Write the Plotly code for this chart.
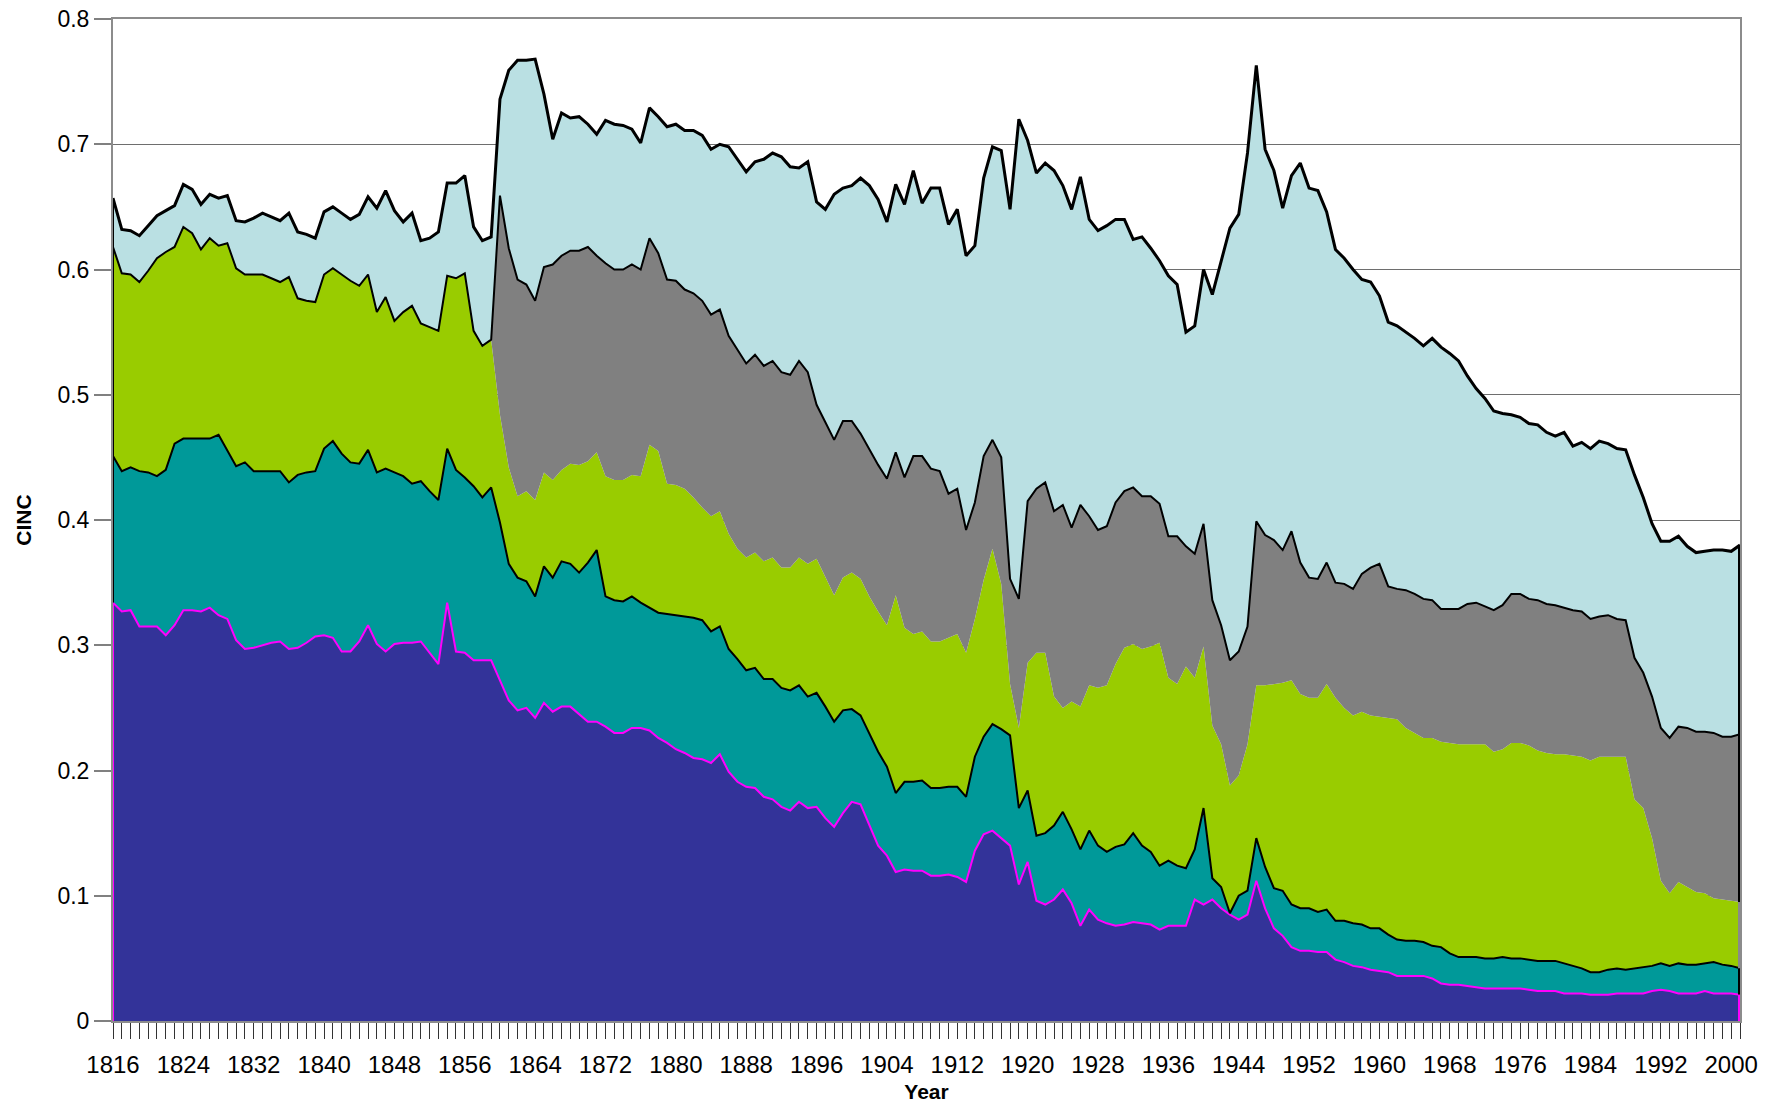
import plotly.graph_objects as go

years = list(range(1816, 2002))

# Stacked (cumulative) CINC boundaries, bottom to top
uk_top = [
    0.334, 0.327, 0.328, 0.315, 0.315, 0.315, 0.308, 0.316, 0.328, 0.328,
    0.327, 0.330, 0.324, 0.321, 0.304, 0.297, 0.298, 0.300, 0.302, 0.303,
    0.297, 0.298, 0.302, 0.307, 0.308, 0.306, 0.295, 0.295, 0.303, 0.316,
    0.301, 0.295, 0.301, 0.302, 0.302, 0.303, 0.294, 0.285, 0.334, 0.295,
    0.294, 0.288, 0.288, 0.288, 0.272, 0.256, 0.248, 0.250, 0.242, 0.254,
    0.247, 0.251, 0.251, 0.245, 0.239, 0.239, 0.235, 0.230, 0.230, 0.234,
    0.234, 0.232, 0.226, 0.222, 0.217, 0.214, 0.210, 0.209, 0.206, 0.213,
    0.199, 0.191, 0.187, 0.186, 0.179, 0.177, 0.171, 0.168, 0.175, 0.170,
    0.171, 0.162, 0.155, 0.166, 0.175, 0.173, 0.157, 0.140, 0.132, 0.119,
    0.121, 0.120, 0.120, 0.116, 0.116, 0.117, 0.115, 0.111, 0.136, 0.149,
    0.152, 0.146, 0.140, 0.109, 0.127, 0.096, 0.093, 0.097, 0.105, 0.094,
    0.076, 0.089, 0.081, 0.078, 0.076, 0.077, 0.079, 0.078, 0.077, 0.073,
    0.076, 0.076, 0.076, 0.097, 0.093, 0.097, 0.090, 0.085, 0.081, 0.085,
    0.112, 0.090, 0.074, 0.068, 0.059, 0.056, 0.056, 0.055, 0.055, 0.049,
    0.047, 0.044, 0.043, 0.041, 0.040, 0.039, 0.036, 0.036, 0.036, 0.036,
    0.034, 0.030, 0.029, 0.029, 0.028, 0.027, 0.026, 0.026, 0.026, 0.026,
    0.026, 0.025, 0.024, 0.024, 0.024, 0.022, 0.022, 0.022, 0.021, 0.021,
    0.021, 0.022, 0.022, 0.022, 0.022, 0.024, 0.025, 0.024, 0.022, 0.022,
    0.022, 0.024, 0.022, 0.022, 0.022, 0.021,
]

france_top = [
    0.451, 0.439, 0.442, 0.439, 0.438, 0.435, 0.440, 0.461, 0.465, 0.465,
    0.465, 0.465, 0.468, 0.456, 0.443, 0.446, 0.439, 0.439, 0.439, 0.439,
    0.430, 0.436, 0.438, 0.439, 0.457, 0.463, 0.453, 0.446, 0.445, 0.456,
    0.438, 0.441, 0.438, 0.435, 0.429, 0.431, 0.423, 0.416, 0.457, 0.440,
    0.434, 0.427, 0.418, 0.426, 0.398, 0.365, 0.354, 0.351, 0.339, 0.363,
    0.354, 0.367, 0.365, 0.358, 0.366, 0.376, 0.339, 0.336, 0.335, 0.339,
    0.334, 0.330, 0.326, 0.325, 0.324, 0.323, 0.322, 0.320, 0.311, 0.315,
    0.297, 0.289, 0.280, 0.282, 0.273, 0.273, 0.266, 0.264, 0.268, 0.259,
    0.262, 0.251, 0.239, 0.248, 0.249, 0.244, 0.229, 0.215, 0.203, 0.182,
    0.191, 0.191, 0.192, 0.186, 0.186, 0.187, 0.187, 0.179, 0.211, 0.227,
    0.237, 0.233, 0.228, 0.170, 0.184, 0.148, 0.150, 0.156, 0.167, 0.153,
    0.137, 0.152, 0.140, 0.135, 0.139, 0.141, 0.150, 0.140, 0.135, 0.124,
    0.128, 0.124, 0.122, 0.137, 0.170, 0.114, 0.107, 0.086, 0.100, 0.104,
    0.146, 0.123, 0.106, 0.104, 0.093, 0.090, 0.090, 0.087, 0.089, 0.080,
    0.080, 0.078, 0.077, 0.074, 0.074, 0.069, 0.065, 0.064, 0.064, 0.063,
    0.060, 0.059, 0.054, 0.051, 0.051, 0.051, 0.050, 0.050, 0.051, 0.050,
    0.050, 0.049, 0.048, 0.048, 0.048, 0.046, 0.044, 0.042, 0.039, 0.039,
    0.041, 0.042, 0.041, 0.042, 0.043, 0.044, 0.046, 0.044, 0.046, 0.045,
    0.045, 0.046, 0.047, 0.045, 0.044, 0.042,
]

russia_top = [
    0.618, 0.597, 0.596, 0.590, 0.599, 0.609, 0.614, 0.618, 0.634, 0.629,
    0.616, 0.625, 0.619, 0.621, 0.601, 0.596, 0.596, 0.596, 0.593, 0.590,
    0.594, 0.577, 0.575, 0.574, 0.596, 0.601, 0.596, 0.591, 0.587, 0.596,
    0.566, 0.578, 0.559, 0.566, 0.571, 0.557, 0.554, 0.551, 0.595, 0.593,
    0.597, 0.551, 0.539, 0.544, 0.484, 0.442, 0.419, 0.423, 0.416, 0.438,
    0.432, 0.440, 0.445, 0.444, 0.447, 0.454, 0.435, 0.432, 0.432, 0.436,
    0.435, 0.460, 0.455, 0.429, 0.428, 0.425, 0.418, 0.410, 0.403, 0.407,
    0.389, 0.377, 0.370, 0.374, 0.367, 0.370, 0.362, 0.362, 0.370, 0.365,
    0.369, 0.354, 0.340, 0.354, 0.358, 0.353, 0.339, 0.327, 0.316, 0.340,
    0.314, 0.309, 0.311, 0.303, 0.303, 0.306, 0.309, 0.294, 0.321, 0.352,
    0.377, 0.349, 0.269, 0.234, 0.286, 0.294, 0.294, 0.259, 0.250, 0.255,
    0.251, 0.268, 0.266, 0.268, 0.285, 0.298, 0.301, 0.297, 0.299, 0.302,
    0.274, 0.269, 0.283, 0.274, 0.299, 0.236, 0.221, 0.188, 0.196, 0.221,
    0.268, 0.268, 0.269, 0.270, 0.272, 0.261, 0.258, 0.258, 0.269, 0.258,
    0.250, 0.244, 0.247, 0.244, 0.243, 0.242, 0.241, 0.234, 0.230, 0.226,
    0.226, 0.223, 0.222, 0.221, 0.221, 0.221, 0.221, 0.215, 0.217, 0.222,
    0.222, 0.220, 0.216, 0.214, 0.213, 0.213, 0.212, 0.211, 0.208, 0.211,
    0.211, 0.211, 0.211, 0.177, 0.170, 0.146, 0.112, 0.102, 0.111, 0.107,
    0.103, 0.102, 0.098, 0.097, 0.096, 0.095,
]

# China enters in 1860; before that its band has zero height
china_first_year = 1860
china_top_from_1860 = [
    0.659, 0.617, 0.592, 0.588, 0.575, 0.602,
    0.604, 0.611, 0.615, 0.615, 0.618, 0.611, 0.605, 0.600, 0.600, 0.604,
    0.600, 0.625, 0.613, 0.592, 0.591, 0.584, 0.581, 0.575, 0.564, 0.568,
    0.547, 0.536, 0.525, 0.532, 0.523, 0.527, 0.518, 0.516, 0.527, 0.518,
    0.492, 0.478, 0.464, 0.479, 0.479, 0.469, 0.456, 0.444, 0.433, 0.454,
    0.434, 0.451, 0.451, 0.441, 0.439, 0.421, 0.425, 0.392, 0.414, 0.451,
    0.464, 0.450, 0.353, 0.337, 0.415, 0.425, 0.430, 0.407, 0.412, 0.394,
    0.412, 0.403, 0.392, 0.395, 0.414, 0.423, 0.426, 0.419, 0.419, 0.413,
    0.387, 0.387, 0.379, 0.373, 0.397, 0.336, 0.316, 0.288, 0.295, 0.315,
    0.399, 0.388, 0.384, 0.376, 0.391, 0.366, 0.354, 0.353, 0.366, 0.350,
    0.349, 0.345, 0.357, 0.362, 0.365, 0.347, 0.345, 0.344, 0.341, 0.337,
    0.336, 0.329, 0.329, 0.329, 0.333, 0.334, 0.331, 0.328, 0.332, 0.341,
    0.341, 0.337, 0.336, 0.333, 0.332, 0.330, 0.328, 0.327, 0.321, 0.323,
    0.324, 0.321, 0.320, 0.290, 0.278, 0.259, 0.234, 0.226, 0.235, 0.234,
    0.231, 0.231, 0.230, 0.227, 0.227, 0.229,
]
china_top = russia_top[: china_first_year - years[0]] + china_top_from_1860

usa_top = [
    0.657, 0.632, 0.631, 0.627, 0.635, 0.643, 0.647, 0.651, 0.668, 0.664,
    0.652, 0.660, 0.657, 0.659, 0.639, 0.638, 0.641, 0.645, 0.642, 0.639,
    0.645, 0.630, 0.628, 0.625, 0.646, 0.650, 0.645, 0.640, 0.644, 0.658,
    0.649, 0.663, 0.647, 0.638, 0.645, 0.623, 0.625, 0.630, 0.669, 0.669,
    0.675, 0.634, 0.623, 0.626, 0.736, 0.759, 0.767, 0.767, 0.768, 0.740,
    0.704, 0.725, 0.721, 0.722, 0.716, 0.708, 0.719, 0.716, 0.715, 0.712,
    0.701, 0.729, 0.722, 0.714, 0.716, 0.711, 0.711, 0.707, 0.696, 0.700,
    0.698, 0.688, 0.678, 0.686, 0.688, 0.693, 0.690, 0.682, 0.681, 0.686,
    0.654, 0.648, 0.660, 0.665, 0.667, 0.673, 0.667, 0.656, 0.638, 0.668,
    0.652, 0.679, 0.653, 0.665, 0.665, 0.636, 0.648, 0.611, 0.619, 0.673,
    0.698, 0.695, 0.648, 0.720, 0.703, 0.677, 0.685, 0.679, 0.667, 0.648,
    0.674, 0.640, 0.631, 0.635, 0.640, 0.640, 0.624, 0.626, 0.617, 0.607,
    0.595, 0.588, 0.550, 0.555, 0.600, 0.580, 0.606, 0.633, 0.644, 0.693,
    0.763, 0.696, 0.679, 0.649, 0.675, 0.685, 0.665, 0.663, 0.646, 0.616,
    0.609, 0.600, 0.592, 0.590, 0.579, 0.558, 0.555, 0.550, 0.545, 0.539,
    0.545, 0.538, 0.533, 0.527, 0.515, 0.505, 0.497, 0.487, 0.485, 0.484,
    0.482, 0.477, 0.476, 0.470, 0.467, 0.470, 0.459, 0.462, 0.457, 0.463,
    0.461, 0.457, 0.456, 0.436, 0.418, 0.397, 0.383, 0.383, 0.387, 0.379,
    0.374, 0.375, 0.376, 0.376, 0.375, 0.380,
]

for arr in (uk_top, france_top, russia_top, china_top, usa_top):
    assert len(arr) == len(years), len(arr)

series = [
    ("United Kingdom", uk_top, "#333399", "#FF00FF", 2.0, "tozeroy"),
    ("France", france_top, "#009999", "#000000", 2.0, "tonexty"),
    ("Russia", russia_top, "#99CC00", "#808080", 0.0, "tonexty"),
    ("China", china_top, "#808080", "#000000", 2.0, "tonexty"),
    ("United States", usa_top, "#BAE0E3", "#000000", 3.0, "tonexty"),
]

fig = go.Figure()
for name, ys, fillc, linec, lw, fillmode in series:
    fig.add_trace(go.Scatter(
        x=years, y=ys, name=name, mode="lines", fill=fillmode,
        fillcolor=fillc, line=dict(color=linec, width=lw),
        showlegend=False,
    ))

# vertical borders of the stacked areas at both ends (from the data)
first, last = 0, len(years) - 1
edges = [
    (years[last], usa_top[last], russia_top[last], "#000000", 4),
    (years[last], russia_top[last], france_top[last], "#8a8a8a", 4),
    (years[last], france_top[last], uk_top[last], "#000000", 4),
    (years[last], uk_top[last], 0, "#FF00FF", 4),
    (years[first], usa_top[first], uk_top[first], "#000000", 2),
    (years[first], uk_top[first], 0, "#FF00FF", 2),
]
for xe, y1, y0, col, w in edges:
    fig.add_trace(go.Scatter(
        x=[xe, xe], y=[y1, y0], mode="lines",
        line=dict(color=col, width=w), showlegend=False, hoverinfo="skip",
    ))

font_family = "Liberation Sans, Arial, sans-serif"

fig.update_layout(
    width=1771, height=1106,
    margin=dict(l=113, r=31, t=19, b=85, pad=0, autoexpand=False),
    paper_bgcolor="white", plot_bgcolor="white",
    font=dict(family=font_family, size=22, color="#000000"),
    showlegend=False,
)

fig.update_xaxes(
    range=[years[0], years[-1]], automargin=False,
    tickmode="linear", tick0=1816, dtick=8,
    ticks="outside", ticklen=16, tickwidth=1, tickcolor="#333333",
    minor=dict(dtick=1, tick0=1816, ticks="outside", ticklen=16,
               tickwidth=1, tickcolor="#333333", showgrid=False),
    showgrid=False, zeroline=False,
    showline=True, linecolor="#8c8c8c", linewidth=2, mirror=True,
    ticklabelstandoff=5,
    tickfont=dict(family=font_family, size=24, color="#000000"),
    title=dict(text="Year", standoff=8,
               font=dict(family=font_family, size=21, color="#000000",
                         weight="bold")),
)

fig.update_yaxes(
    range=[0, 0.8], tickmode="linear", tick0=0, dtick=0.1, automargin=False,
    ticks="outside", ticklen=17, tickwidth=1.5, tickcolor="#808080",
    showgrid=True, gridcolor="#6e6e6e", gridwidth=1,
    zeroline=False,
    showline=True, linecolor="#8c8c8c", linewidth=2, mirror=True,
    layer="below traces",
    tickfont=dict(family=font_family, size=23, color="#000000"),
    title=dict(text="CINC", standoff=20,
               font=dict(family=font_family, size=21, color="#000000",
                         weight="bold")),
)

fig.write_html(
    "out.html",
    config={"displayModeBar": False},
    post_script="document.body.style.margin='0';",
)
